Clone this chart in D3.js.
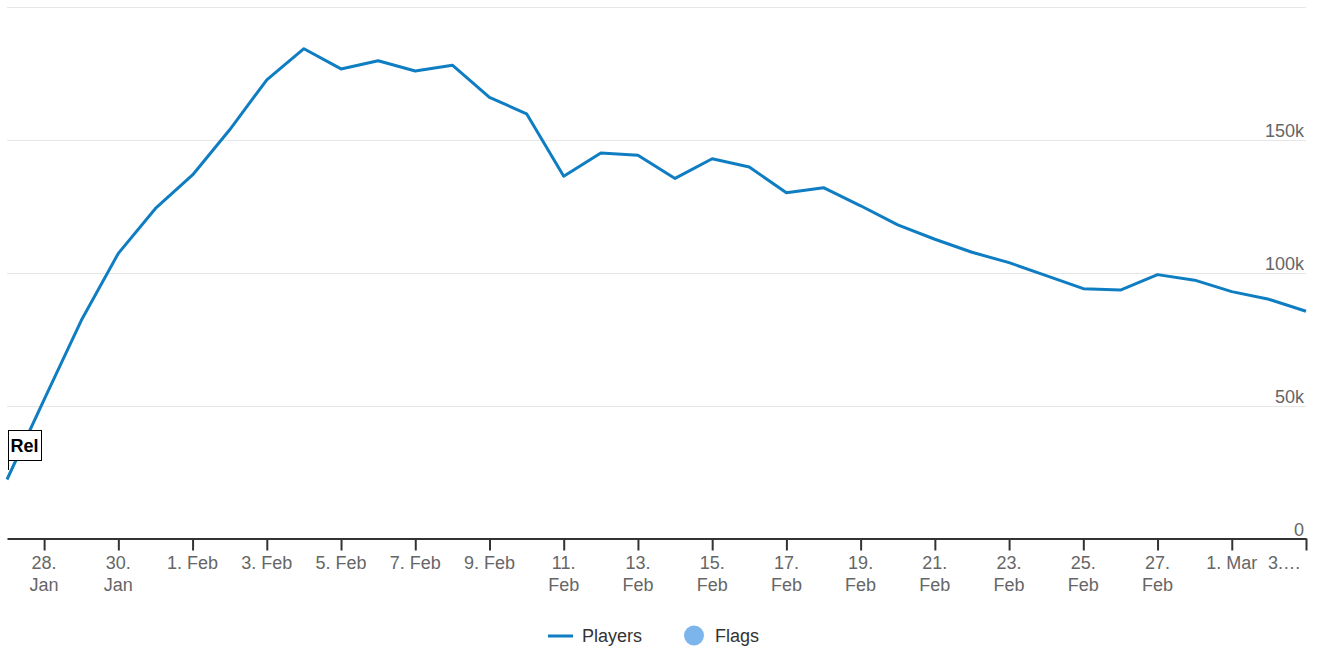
<!DOCTYPE html>
<html>
<head>
<meta charset="utf-8">
<script src="https://cdn.jsdelivr.net/npm/d3@7"></script>
<style>
  html, body { margin: 0; padding: 0; background: #fff; }
  svg { display: block; font-family: "Liberation Sans", Arial, sans-serif; }
</style>
</head>
<body>
<svg id="chart" width="1317" height="648"></svg>
<script>
// Daily player counts
const dates = [
  "2021-01-27","2021-01-28","2021-01-29","2021-01-30","2021-01-31",
  "2021-02-01","2021-02-02","2021-02-03","2021-02-04","2021-02-05",
  "2021-02-06","2021-02-07","2021-02-08","2021-02-09","2021-02-10",
  "2021-02-11","2021-02-12","2021-02-13","2021-02-14","2021-02-15",
  "2021-02-16","2021-02-17","2021-02-18","2021-02-19","2021-02-20",
  "2021-02-21","2021-02-22","2021-02-23","2021-02-24","2021-02-25",
  "2021-02-26","2021-02-27","2021-02-28","2021-03-01","2021-03-02",
  "2021-03-03"
];
const players = [
  22200, 52300, 82000, 107300, 124200,
  136800, 153800, 172600, 184300, 176700,
  179800, 175900, 178100, 166000, 159800,
  136300, 145100, 144200, 135500, 142900,
  139800, 130100, 132000, 125200, 118000,
  112600, 107700, 103800, 98900, 94000,
  93500, 99300, 97200, 92900, 90000,
  85500
];
// Event flags
const flagDates = ["2021-01-27"];
const flagTitles = ["Rel"];
// Axis ticks
const yTicks = [0, 50000, 100000, 150000, 200000];
const xTickDates = [
  "2021-01-28","2021-01-30","2021-02-01","2021-02-03","2021-02-05",
  "2021-02-07","2021-02-09","2021-02-11","2021-02-13","2021-02-15",
  "2021-02-17","2021-02-19","2021-02-21","2021-02-23","2021-02-25",
  "2021-02-27","2021-03-01","2021-03-03"
];
const months = ["Jan","Feb","Mar","Apr","May","Jun","Jul","Aug","Sep","Oct","Nov","Dec"];

const parse = d3.utcParse("%Y-%m-%d");
const data = dates.map((d, i) => ({ date: parse(d), value: players[i] }));

const svg = d3.select("#chart");
const plotLeft = 7, plotRight = 1306, plotTop = 7, plotBottom = 538.5;
const fontSize = 18;

const x = d3.scaleUtc()
  .domain([parse(dates[0]), parse(dates[dates.length - 1])])
  .range([plotLeft, plotRight]);
const y = d3.scaleLinear().domain([0, 200000]).range([plotBottom, plotTop]);

// Horizontal gridlines
svg.append("g")
  .selectAll("line")
  .data(yTicks.filter(v => v > 0))
  .join("line")
  .attr("x1", plotLeft).attr("x2", plotRight)
  .attr("y1", d => Math.round(y(d)) + 0.5)
  .attr("y2", d => Math.round(y(d)) + 0.5)
  .attr("stroke", "#e6e6e6")
  .attr("stroke-width", 1);

// Y labels sit just above their gridline, right-aligned
svg.append("g")
  .selectAll("text")
  .data(yTicks.filter(v => v < 200000))
  .join("text")
  .attr("x", 1304)
  .attr("y", d => y(d) - 2.5)
  .attr("text-anchor", "end")
  .attr("fill", "#666")
  .attr("font-size", fontSize)
  .text(d => d === 0 ? "0" : d3.format("d")(d / 1000) + "k");

// X axis
const xAxis = d3.axisBottom(x)
  .tickValues(xTickDates.map(parse))
  .tickSize(12)
  .tickSizeOuter(0)
  .tickFormat("");
const gx = svg.append("g")
  .attr("transform", `translate(0,${plotBottom})`)
  .call(xAxis);
gx.select(".domain").attr("stroke", "#333").attr("stroke-width", 2);
gx.selectAll(".tick line").attr("stroke", "#333").attr("stroke-width", 2);

// X tick labels: two-digit days wrap onto two lines
const lastTick = xTickDates[xTickDates.length - 1];
svg.append("g")
  .selectAll("text")
  .data(xTickDates)
  .join("text")
  .attr("fill", "#666")
  .attr("font-size", fontSize)
  .attr("text-anchor", d => d === lastTick ? "end" : "middle")
  .attr("transform", d => `translate(${d === lastTick ? 1301 : x(parse(d))},0)`)
  .each(function (d) {
    const dt = parse(d);
    const day = dt.getUTCDate();
    const mon = months[dt.getUTCMonth()];
    const t = d3.select(this);
    if (d === lastTick) {
      t.append("tspan").attr("x", 0).attr("y", 569).text(day + ".\u2026");
    } else if (day >= 10) {
      t.append("tspan").attr("x", 0).attr("y", 569).text(day + ".");
      t.append("tspan").attr("x", 0).attr("y", 591).text(mon);
    } else {
      t.append("tspan").attr("x", 0).attr("y", 569).text(day + ". " + mon);
    }
  });

// Player line
const line = d3.line().x(d => x(d.date)).y(d => y(d.value));
svg.append("path")
  .datum(data)
  .attr("fill", "none")
  .attr("stroke", "#0f7dc2")
  .attr("stroke-width", 3)
  .attr("stroke-linejoin", "round")
  .attr("d", line);

// Flags
const flags = flagDates.map((d, i) => ({ date: parse(d), title: flagTitles[i] }));
const fg = svg.append("g").selectAll("g").data(flags).join("g")
  .attr("transform", d => `translate(${x(d.date) + 1},0)`);
fg.append("line")
  .attr("x1", 0.5).attr("x2", 0.5)
  .attr("y1", 460).attr("y2", 470)
  .attr("stroke", "#000").attr("stroke-width", 1);
fg.append("rect")
  .attr("x", 0.5).attr("y", 430.5)
  .attr("width", 33).attr("height", 30)
  .attr("fill", "#fff")
  .attr("stroke", "#000")
  .attr("stroke-width", 1);
fg.append("text")
  .attr("x", 16.5).attr("y", 452)
  .attr("text-anchor", "middle")
  .attr("font-size", fontSize)
  .attr("font-weight", "bold")
  .attr("fill", "#000")
  .text(d => d.title);

// Legend
const lg = svg.append("g");
lg.append("line")
  .attr("x1", 548).attr("x2", 573)
  .attr("y1", 636).attr("y2", 636)
  .attr("stroke", "#0f7dc2").attr("stroke-width", 3);
lg.append("text")
  .attr("x", 582).attr("y", 642)
  .attr("font-size", fontSize).attr("fill", "#333")
  .text("Players");
lg.append("circle")
  .attr("cx", 694).attr("cy", 635.5).attr("r", 10)
  .attr("fill", "#7cb5ec");
lg.append("text")
  .attr("x", 715).attr("y", 642)
  .attr("font-size", fontSize).attr("fill", "#333")
  .text("Flags");
</script>
</body>
</html>
